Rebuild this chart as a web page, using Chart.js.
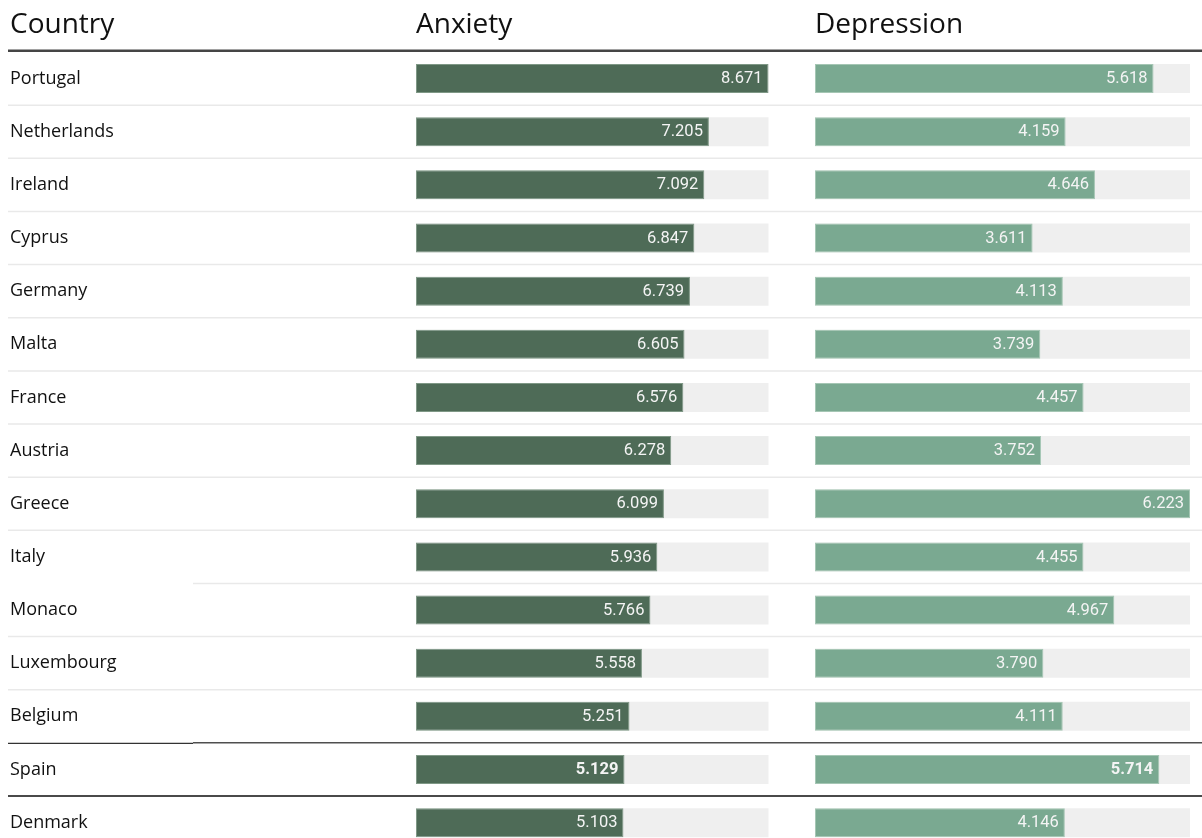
<!DOCTYPE html>
<html>
<head>
<meta charset="utf-8">
<script src="https://cdn.jsdelivr.net/npm/chart.js@4"></script>
<style>
  html, body { margin: 0; padding: 0; background: #ffffff; overflow: hidden; }
  #wrap { position: relative; width: 1202px; height: 838px; overflow: hidden; }
  canvas { display: block; }
</style>
</head>
<body>
<div id="wrap"><canvas id="c" width="1202" height="860"></canvas></div>
<script>
// ---- data ----
const columnTitles = ['Country', 'Anxiety', 'Depression'];
const countries = ['Portugal', 'Netherlands', 'Ireland', 'Cyprus', 'Germany', 'Malta', 'France', 'Austria',
  'Greece', 'Italy', 'Monaco', 'Luxembourg', 'Belgium', 'Spain', 'Denmark'];
const anxiety = [8.671, 7.205, 7.092, 6.847, 6.739, 6.605, 6.576, 6.278, 6.099, 5.936, 5.766, 5.558, 5.251, 5.129, 5.103];
const depression = [5.618, 4.159, 4.646, 3.611, 4.113, 3.739, 4.457, 3.752, 6.223, 4.455, 4.967, 3.790, 4.111, 5.714, 4.146];
const highlightCountry = 'Spain';

// ---- layout (pixels) ----
const LABEL_X = 10;
const AREA_LEFT = 416, AREA_RIGHT = 1190;
const ANX_LEFT = 416, ANX_RIGHT = 768.5;
const DEP_LEFT = 815, DEP_RIGHT = 1190;
const areaW = AREA_RIGHT - AREA_LEFT;

const maxA = Math.max(...anxiety);
const maxD = Math.max(...depression);
const trackA = anxiety.map(() => maxA);
const trackD = depression.map(() => maxD);

// anxiety axis: 0 at ANX_LEFT, maxA at ANX_RIGHT
const xAMax = maxA * areaW / (ANX_RIGHT - ANX_LEFT);
// depression axis: 0 at DEP_LEFT, maxD at DEP_RIGHT (= area right)
const depPerUnit = (DEP_RIGHT - DEP_LEFT) / maxD;
const xDMin = -(DEP_LEFT - AREA_LEFT) / depPerUnit;
const xDMax = maxD;

const FONT = "'Open Sans', 'Noto Sans', sans-serif";

const tablePlugin = {
  id: 'tablePlugin',
  beforeDatasetsDraw(chart) {
    const ctx = chart.ctx;
    const y = chart.scales.y;
    const W = chart.width;
    ctx.save();
    // headers
    ctx.fillStyle = '#111';
    ctx.font = '28px ' + FONT;
    ctx.textBaseline = 'alphabetic';
    ctx.textAlign = 'left';
    const hx = [LABEL_X, chart.scales.xA.getPixelForValue(0), chart.scales.xD.getPixelForValue(0)];
    columnTitles.forEach((t, i) => ctx.fillText(t, hx[i], 33));
    // header rule
    ctx.strokeStyle = '#454545';
    ctx.lineWidth = 2.6;
    ctx.beginPath();
    ctx.moveTo(8, 50.8); ctx.lineTo(W, 50.8); ctx.stroke();
    // row separators
    const hi = countries.indexOf(highlightCountry);
    for (let i = 0; i < countries.length - 1; i++) {
      const yy = (y.getPixelForValue(i) + y.getPixelForValue(i + 1)) / 2;
      if (i === hi - 1) {
        ctx.strokeStyle = '#333';
        ctx.lineWidth = 1.4;
        ctx.beginPath(); ctx.moveTo(8, yy + 0.5); ctx.lineTo(193, yy + 0.5); ctx.stroke();
        ctx.strokeStyle = '#4f4f4f';
        ctx.beginPath(); ctx.moveTo(193, yy - 0.2); ctx.lineTo(W, yy - 0.2); ctx.stroke();
        continue;
      }
      const dark = (i === hi);
      ctx.strokeStyle = dark ? '#4a4a4a' : '#e9e9e9';
      ctx.lineWidth = dark ? 2 : 1.5;
      const startX = (countries[i] === 'Italy') ? 193 : 8;
      ctx.beginPath();
      ctx.moveTo(startX, yy); ctx.lineTo(W, yy); ctx.stroke();
    }
    ctx.restore();
  },
  afterDatasetsDraw(chart) {
    const ctx = chart.ctx;
    ctx.save();
    ctx.textAlign = 'right';
    ctx.textBaseline = 'middle';
    ctx.fillStyle = '#f4f4f4';
    chart.data.datasets.forEach((ds, di) => {
      if (!ds.showValues) return;
      const meta = chart.getDatasetMeta(di);
      meta.data.forEach((el, i) => {
        const bold = countries[i] === highlightCountry;
        ctx.font = (bold ? 'bold ' : '') + '16.5px Roboto, sans-serif';
        ctx.fillText(ds.data[i].toFixed(3), el.x - 6, el.y + 0.5);
      });
    });
    ctx.restore();
  }
};

new Chart(document.getElementById('c'), {
  type: 'bar',
  data: {
    labels: countries,
    datasets: [
      { label: 'trackA', data: trackA, xAxisID: 'xA', backgroundColor: '#efefef', borderWidth: 0, order: 2 },
      { label: 'Anxiety', data: anxiety, xAxisID: 'xA', backgroundColor: '#4e6b57', borderColor: '#7f9886', borderWidth: 1, order: 1, showValues: true },
      { label: 'trackD', data: trackD, xAxisID: 'xD', backgroundColor: '#efefef', borderWidth: 0, order: 2 },
      { label: 'Depression', data: depression, xAxisID: 'xD', backgroundColor: '#7aa991', borderColor: '#a5c6b4', borderWidth: 1, order: 1, showValues: true }
    ]
  },
  options: {
    responsive: false,
    animation: false,
    indexAxis: 'y',
    layout: { padding: { left: LABEL_X, right: 1202 - AREA_RIGHT, top: 52, bottom: 7 } },
    datasets: { bar: { grouped: false, barPercentage: 0.9, categoryPercentage: 1, maxBarThickness: 29, borderSkipped: false } },
    plugins: { legend: { display: false }, tooltip: { enabled: false }, title: { display: false } },
    scales: {
      y: {
        type: 'category',
        offset: true,
        grid: { display: false },
        border: { display: false },
        ticks: { autoSkip: false, crossAlign: 'far', padding: 0, color: '#111', font: { family: FONT, size: 18 } },
        afterFit(scale) { scale.width = AREA_LEFT - LABEL_X; }
      },
      xA: { type: 'linear', display: false, min: 0, max: xAMax, bounds: 'data' },
      xD: { type: 'linear', display: false, min: xDMin, max: xDMax, bounds: 'data' }
    }
  },
  plugins: [tablePlugin]
});
</script>
</body>
</html>
